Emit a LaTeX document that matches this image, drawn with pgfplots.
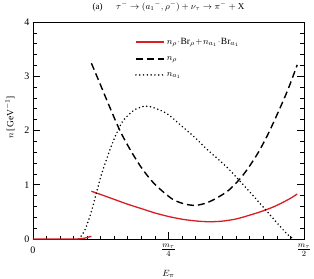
\documentclass[border=0pt]{standalone}
\usepackage{fontspec}
\setmainfont{Liberation Serif}
\usepackage{pgfplots}
\pgfplotsset{compat=1.18}
\definecolor{myred}{RGB}{215,30,35}
\begin{document}
\begin{tikzpicture}
\begin{axis}[
  scale only axis,
  width=271pt, height=217pt,
  xmin=0, xmax=20, ymin=0, ymax=4,
  /pgf/number format/assume math mode=true,
  axis line style={line width=0.8pt},
  xtick={0,10,20},
  xticklabels={0,{\fontsize{12}{14}\selectfont$\frac{m_\tau}{4}$},{\fontsize{12}{14}\selectfont$\frac{m_\tau}{2}$}},
  minor xtick={1,...,19},
  ytick={0,1,2,3,4},
  minor ytick={0.2,0.4,...,3.9},
  xtick pos=lower, ytick pos=both, yticklabel pos=left,
  tick align=inside,
  major tick length=7pt, minor tick length=3.5pt,
  every tick/.style={line width=0.7pt, black},
  tick label style={font=\fontsize{10}{12}\selectfont},
  xticklabel style={anchor=center, yshift=-11pt},
  xlabel={$E_\pi$},
  ylabel={$n$ [GeV$^{-1}$]},
  label style={font=\fontsize{9.5}{11}\selectfont},
  xlabel style={at={(rel axis cs:0.5,0)}, anchor=base, yshift=-37pt},
  ylabel style={at={(rel axis cs:-0.085,0.56)}, anchor=center},
  legend style={draw=none, fill=none, at={(0.365,0.945)}, anchor=north west,
    font=\fontsize{9.5}{11}\selectfont, row sep=6.5pt},
  legend cell align=left,
  legend image code/.code={\draw[#1] (0pt,0pt) -- (28pt,0pt);},
  clip=false,
]
\addplot[myred, line width=1.3pt, smooth, tension=0.5] coordinates {
(4.31,0.88) (5.0,0.82) (6.0,0.73) (7.0,0.64) (8.0,0.56) (9.0,0.48)
(10.0,0.415) (11.0,0.365) (12.0,0.333) (13.0,0.318) (14.0,0.33) (15.0,0.37)
(16.0,0.44) (17.0,0.52) (18.0,0.62) (19.0,0.75) (19.5,0.83)};
\addlegendentry{$n_\rho\!\cdot\!\mathrm{Br}_\rho\!+\!n_{a_1}\!\cdot\!\mathrm{Br}_{a_1}$}
\addplot[black, line width=1.4pt, dash pattern=on 7pt off 4pt, smooth, tension=0.5] coordinates {
(4.31,3.24) (5.0,2.83) (5.58,2.48) (6.45,1.98) (7.33,1.58) (8.1,1.28) (8.91,1.03)
(9.7,0.85) (10.39,0.72) (11.2,0.645) (11.99,0.62) (12.8,0.665) (13.59,0.76)
(14.45,0.90) (15.31,1.12) (16.0,1.35) (16.66,1.61) (17.3,1.91) (17.9,2.23)
(18.76,2.72) (19.5,3.21)};
\addlegendentry{$n_\rho$}
\addplot[black, line width=1.7pt, line cap=round, dash pattern=on 0pt off 3.8pt, smooth, tension=0.5] coordinates {
(3.37,0) (3.8,0.15) (4.3,0.5) (4.97,1.12) (5.5,1.52) (6.0,1.85) (6.57,2.15)
(7.1,2.30) (7.56,2.39) (8.29,2.45) (8.91,2.42) (9.89,2.31) (11.12,2.05)
(12.0,1.86) (12.85,1.65) (14.2,1.35) (15.19,1.09) (16.17,0.82) (17.16,0.54)
(18.14,0.26) (18.8,0.08) (19.25,0)};
\addlegendentry{$n_{a_1}$}
\addplot[myred, line width=1.3pt, forget plot] coordinates {
(0,0) (3.37,0) (3.8,0.015) (4.31,0.05)};
\node[anchor=base, font=\fontsize{9}{11}\selectfont] at (rel axis cs:0.5,1) [yshift=12.5pt]
  {(a)\quad\ \ $\tau^-\to(a_1{}^-,\rho^-)+\nu_\tau\to\pi^-+\mathrm{X}$};
\coordinate (ll) at (rel axis cs:0,0);
\coordinate (ur) at (rel axis cs:1,1);
\end{axis}
\pgfresetboundingbox
\useasboundingbox ([shift={(-33pt,-40pt)}]ll) rectangle ([shift={(10pt,22pt)}]ur);
\end{tikzpicture}
\end{document}
